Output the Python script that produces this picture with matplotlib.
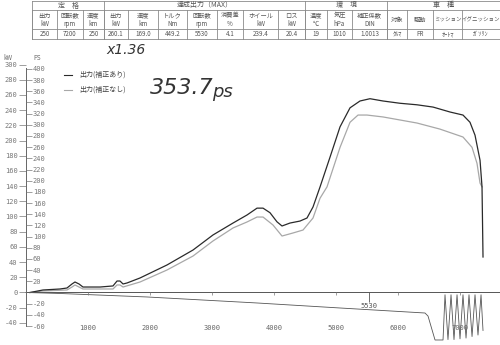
import matplotlib
matplotlib.use("Agg")
import matplotlib.pyplot as plt

plt.rcParams['font.family'] = ['Noto Sans CJK JP', 'DejaVu Sans']

# ---- chart data (rpm / kW) ----
rpm_corr = [65, 274, 548, 661, 742, 790, 855, 919, 1194, 1403, 1468, 1516, 1565, 1629,
            1839, 2274, 2694, 3016, 3339, 3565, 3726, 3823, 3935, 4048, 4129, 4258,
            4419, 4532, 4629, 4742, 4903, 5065, 5226, 5387, 5548, 5758, 6032, 6306,
            6565, 6839, 7048, 7161, 7242, 7323, 7355, 7371]
kw_corr = [0, 3.3, 4.6, 5.9, 11.2, 13.8, 11.2, 7.2, 7.2, 8.6, 15.1, 15.1, 11.2, 12.5,
           19.1, 36.2, 55.9, 75.7, 91.4, 102, 111, 111, 105, 93, 87.5, 91.4,
           94, 98, 112.5, 138.8, 178, 218, 243, 252, 255, 252, 249, 247,
           244, 237.5, 233.5, 224, 207, 174, 139, 46.7]

rpm_raw = [65, 274, 661, 742, 790, 855, 919, 1403, 1468, 1516, 1565, 1839, 2274, 2694,
           3016, 3339, 3565, 3726, 3823, 3984, 4129, 4306, 4468, 4629, 4742, 4855,
           5065, 5226, 5355, 5500, 5758, 6306, 6677, 7048, 7194, 7274, 7323, 7355]
kw_raw = [0, 2, 3.3, 7.2, 9.9, 7.2, 4.6, 4.6, 9.9, 9.9, 7.2, 13.8, 29.6, 48,
          67.8, 84.9, 92.8, 99.3, 99.3, 88.8, 74.3, 78.3, 82.2, 98, 124, 139,
          191, 224, 233.5, 233.5, 231, 223, 215, 204.6, 191, 170, 144, 139]

rpm_loss = [0, 548, 1952, 3726, 5065, 6435, 6484, 6597, 6726, 6758, 6806, 6855, 6903,
            6952, 7000, 7048, 7097, 7145, 7194, 7242, 7290, 7339, 7371]
kw_loss = [0, -1.3, -5.9, -13.8, -20.4, -27, -31, -62.5, -62.5, -3, -62, -3, -62,
           -3, -61, -3, -60, -3, -58, -3, -56, -3, -50]

max_rpm = 5530
kw_ticks = [300, 280, 260, 240, 220, 200, 180, 160, 140, 120, 100, 80, 60, 40, 20, 0, -20, -40]
ps_ticks = [400, 380, 360, 340, 320, 300, 280, 260, 240, 220, 200, 180, 160, 140, 120,
            100, 80, 60, 40, 20, -20, -40, -60]
rpm_ticks = [1000, 2000, 3000, 4000, 5000, 6000, 7000]
PS_KW = 0.7355

# ---- header table ----
groups = [("定　格", 32, 104), ("達成出力（MAX）", 104, 305), ("環　境", 305, 387), ("車　種", 387, 500)]
col_edges = [32, 57, 83, 104, 128, 158, 187, 217, 243, 278, 305, 327, 352, 387, 407, 433, 462, 500]
col_names = ["出力", "回転数", "速度", "出力", "速度", "トルク", "回転数", "消費差", "ホイール", "ロス",
             "温度", "気圧", "補正係数", "対象", "駆動", "ミッション", "イグニッション"]
col_units = ["kW", "rpm", "km", "kW", "km", "Nm", "rpm", "%", "kW", "kW",
             "℃", "hPa", "DIN", "", "", "", ""]
col_values = ["250", "7200", "250", "260.1", "169.0", "449.2", "5530", "4.1", "239.4", "20.4",
              "19", "1010", "1.0013", "ｸﾙﾏ", "FR", "ｵｰﾄﾏ", "ｶﾞｿﾘﾝ"]

fig = plt.figure(figsize=(5, 3.45), dpi=100)
fig.patch.set_facecolor('white')

ax = fig.add_axes([26 / 500, 0, 474 / 500, 295 / 345])
ax.set_xlim(0, 7645)
ax.set_ylim(-69.1, 319.1)
ax.patch.set_alpha(0)

ax.plot(rpm_raw, kw_raw, color='#a8a8a8', lw=0.9)
ax.plot(rpm_corr, kw_corr, color='#2a2a2a', lw=0.9)
ax.plot(rpm_loss, kw_loss, color='#555555', lw=0.6, clip_on=False)
ax.axhline(0, color='#555555', lw=0.7)
ax.vlines(rpm_ticks, -3, 0, color='#777777', lw=0.5)
ax.vlines([max_rpm], -13, 0, color='#555555', lw=0.6)

mono = 'DejaVu Sans Mono'
for r in rpm_ticks:
    ax.text(r, -47, str(r), ha='center', va='center', fontsize=5, family=mono, color='#666666')
ax.text(max_rpm, -18, str(max_rpm), ha='center', va='center', fontsize=5, family=mono, color='#555555')

for s in ['top', 'right', 'bottom']:
    ax.spines[s].set_visible(False)
ax.spines['left'].set_bounds(-60 * PS_KW, 296)
ax.spines['left'].set_color('#666666')
ax.spines['left'].set_linewidth(0.7)
ax.set_xticks([])
ax.set_yticks(kw_ticks)
ax.set_yticklabels([str(v) for v in kw_ticks], family=mono, fontsize=5, color='#666666')
ax.tick_params(axis='y', direction='out', length=5, width=0.5, pad=1, colors='#777777')

ax2 = ax.twinx()
ax2.set_ylim(ax.get_ylim()[0] / PS_KW, ax.get_ylim()[1] / PS_KW)
for s in ['top', 'left', 'bottom']:
    ax2.spines[s].set_visible(False)
ax2.spines['right'].set_position(('axes', 0.0))
ax2.spines['right'].set_visible(False)
ax2.set_yticks(ps_ticks)
ax2.set_yticklabels([str(v) for v in ps_ticks], family=mono, fontsize=5, color='#666666')
ax2.tick_params(axis='y', direction='out', length=4, width=0.5, pad=1, colors='#777777')

# overlay in pixel coordinates for table / notes
ov = fig.add_axes([0, 0, 1, 1])
ov.set_xlim(0, 500)
ov.set_ylim(345, 0)
ov.axis('off')
ov.patch.set_alpha(0)

lc = '#8a8a8a'
for yy in [0.5, 10, 29, 39]:
    ov.plot([32, 500], [yy, yy], color=lc, lw=0.6)
for name, x0, x1 in groups:
    ov.plot([x0, x0], [0.5, 39], color=lc, lw=0.6)
    ov.text((x0 + x1) / 2, 5.5, name, ha='center', va='center', fontsize=5, color='#555555')
for x in col_edges:
    ov.plot([x, x], [10, 39], color=lc, lw=0.6)
for i in range(len(col_names)):
    cx = (col_edges[i] + col_edges[i + 1]) / 2
    if col_units[i]:
        ov.text(cx, 15.5, col_names[i], ha='center', va='center', fontsize=4.5, color='#555555')
        ov.text(cx, 24, col_units[i], ha='center', va='center', fontsize=4.5, color='#555555')
    else:
        ov.text(cx, 19.5, col_names[i], ha='center', va='center', fontsize=4 if len(col_names[i]) > 4 else 4.5,
                color='#555555')
    ov.text(cx, 34, col_values[i], ha='center', va='center', fontsize=4.5, color='#555555')

ov.text(8, 58, "kW", ha='center', va='center', fontsize=4.5, color='#666666')
ov.text(37, 58, "PS", ha='center', va='center', fontsize=4.5, color='#666666')

# legend
ov.plot([64, 72], [75, 75], color='#2a2a2a', lw=0.8)
ov.plot([64, 72], [90, 90], color='#a8a8a8', lw=0.8)
ov.text(79, 75, "出力(補正あり)", ha='left', va='center', fontsize=5, color='#444444')
ov.text(79, 90, "出力(補正なし)", ha='left', va='center', fontsize=5, color='#444444')

# handwritten notes
ov.text(106, 50, "x1.36", ha='left', va='center', fontsize=10, style='italic',
        family='DejaVu Sans', color='#333333')
ov.text(150, 88, "353.7", ha='left', va='center', fontsize=16, style='italic',
        family='DejaVu Sans', color='#333333')
ov.text(212, 92, "ps", ha='left', va='center', fontsize=13, style='italic',
        family='DejaVu Sans', color='#333333')

fig.savefig("out.png", dpi=100, facecolor='white')
